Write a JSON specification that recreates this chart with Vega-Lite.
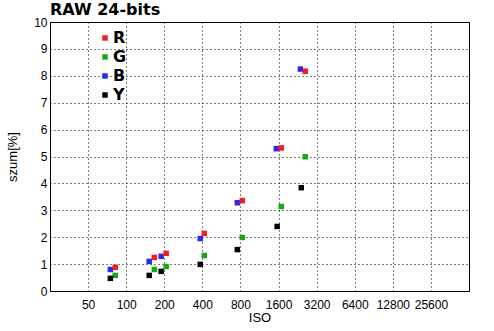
{
  "$schema": "https://vega.github.io/schema/vega-lite/v6.json",
  "width": 419,
  "height": 269,
  "autosize": "none",
  "padding": {"left": 50, "top": 22, "right": 25, "bottom": 40},
  "background": "white",
  "title": {"text": "RAW 24-bits", "anchor": "start", "frame": "group", "font": "DejaVu Sans", "fontSize": 16, "fontWeight": "bold", "color": "black", "offset": 4, "dy": 6},
  "config": {
    "view": {"stroke": "black", "strokeWidth": 1},
    "axis": {"labelFont": "Liberation Sans", "titleFont": "Liberation Sans", "labelFontSize": 12, "titleFontSize": 13, "labelColor": "black", "titleColor": "black", "titleFontWeight": "normal", "tickColor": "black", "tickOpacity": 1, "domain": false}
  },
  "data": {"values": [
    {"ch": "B", "iso": 75, "noise": 0.80},
    {"ch": "R", "iso": 82, "noise": 0.88},
    {"ch": "G", "iso": 82, "noise": 0.58},
    {"ch": "Y", "iso": 75, "noise": 0.47},
    {"ch": "B", "iso": 152, "noise": 1.10},
    {"ch": "R", "iso": 167, "noise": 1.25},
    {"ch": "G", "iso": 167, "noise": 0.80},
    {"ch": "Y", "iso": 152, "noise": 0.58},
    {"ch": "B", "iso": 189, "noise": 1.29},
    {"ch": "R", "iso": 207, "noise": 1.40},
    {"ch": "G", "iso": 207, "noise": 0.91},
    {"ch": "Y", "iso": 189, "noise": 0.73},
    {"ch": "B", "iso": 385, "noise": 1.95},
    {"ch": "R", "iso": 414, "noise": 2.14},
    {"ch": "G", "iso": 414, "noise": 1.32},
    {"ch": "Y", "iso": 385, "noise": 0.99},
    {"ch": "B", "iso": 755, "noise": 3.28},
    {"ch": "R", "iso": 827, "noise": 3.36},
    {"ch": "G", "iso": 827, "noise": 1.99},
    {"ch": "Y", "iso": 755, "noise": 1.54},
    {"ch": "B", "iso": 1535, "noise": 5.29},
    {"ch": "R", "iso": 1680, "noise": 5.32},
    {"ch": "G", "iso": 1680, "noise": 3.14},
    {"ch": "Y", "iso": 1560, "noise": 2.40},
    {"ch": "B", "iso": 2380, "noise": 8.25},
    {"ch": "R", "iso": 2600, "noise": 8.17},
    {"ch": "G", "iso": 2600, "noise": 4.99},
    {"ch": "Y", "iso": 2420, "noise": 3.84}
  ]},
  "layer": [
    {
      "mark": {"type": "point", "shape": "square", "filled": true, "size": 30, "opacity": 1},
      "encoding": {
        "x": {"field": "iso", "type": "quantitative",
          "scale": {"type": "log", "base": 2, "domain": [25, 51200], "nice": false},
          "axis": {"values": [50, 100, 200, 400, 800, 1600, 3200, 6400, 12800, 25600], "format": "d", "grid": true, "gridDash": [1, 3], "gridColor": "black", "gridOpacity": 1, "ticks": false, "labelPadding": 8, "labelFlush": false, "title": "ISO", "titlePadding": 1}},
        "y": {"field": "noise", "type": "quantitative",
          "scale": {"domain": [0, 10], "nice": false},
          "axis": {"orient": "left", "values": [0, 1, 2, 3, 4, 5, 6, 7, 8, 9, 10], "grid": true, "gridDash": [1, 3], "gridColor": "black", "gridOpacity": 1, "ticks": false, "labelPadding": 3, "title": "szum[%]", "titleColor": "#000000", "titlePadding": 14}},
        "color": {"field": "ch", "type": "nominal",
          "scale": {"domain": ["R", "G", "B", "Y"], "range": ["#f41c1c", "#14a814", "#2828ee", "#000000"]},
          "legend": {"orient": "none", "legendX": 47, "legendY": 8, "title": null, "symbolType": "square", "symbolSize": 30, "symbolStrokeWidth": 0, "labelFont": "DejaVu Sans", "labelFontSize": 16, "labelFontWeight": "bold", "labelColor": "black", "rowPadding": 3, "labelOffset": 0, "padding": 0}}
      }
    }
  ]
}
